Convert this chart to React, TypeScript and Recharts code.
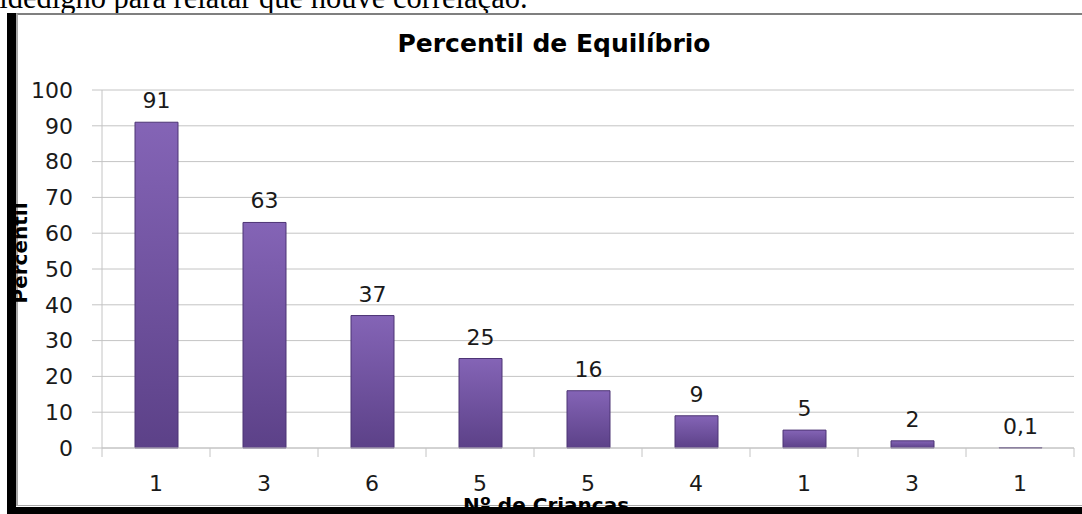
import { Bar, BarChart, CartesianGrid, LabelList, XAxis, YAxis } from "recharts";

const criancas = ["1", "3", "6", "5", "5", "4", "1", "3", "1"];
const percentis = [91, 63, 37, 25, 16, 9, 5, 2, 0.1];
const yTicks = [0, 10, 20, 30, 40, 50, 60, 70, 80, 90, 100];

const data = criancas.map((name, i) => ({ name, percentil: percentis[i] }));

const sans = "'DejaVu Sans', sans-serif";
const gridGray = "#c4c4c4";

function virgula(value: unknown) {
  return String(value).replace(".", ",");
}

// rótulo da categoria + marcas nas divisas entre as categorias
function CategoriaTick(props: any) {
  const { x, y, payload, index, visibleTicksCount, width } = props;
  const meia = Number(width) / visibleTicksCount / 2;
  return (
    <g>
      <line x1={x - meia} x2={x - meia} y1={y} y2={y + 9} stroke={gridGray} />
      {index === visibleTicksCount - 1 && (
        <line x1={x + meia} x2={x + meia} y1={y} y2={y + 9} stroke={gridGray} />
      )}
      <text
        x={x}
        y={y + 27}
        dy="0.71em"
        textAnchor="middle"
        fill="#1a1a1a"
        fontSize={22}
        fontFamily={sans}
      >
        {payload.value}
      </text>
    </g>
  );
}

export default function App() {
  return (
    <div
      style={{
        position: "fixed",
        left: 0,
        top: 0,
        width: 1082,
        height: 514,
        overflow: "hidden",
        background: "#fff",
      }}
    >
      {/* linha do texto acima, cortada */}
      <div
        style={{
          position: "absolute",
          left: -11,
          top: -17,
          whiteSpace: "nowrap",
          fontFamily: "'Liberation Serif', serif",
          fontSize: 30.5,
          lineHeight: "30px",
          color: "#000",
        }}
      >
        fidedigno para relatar que houve correlação.
      </div>

      {/* caixa do gráfico */}
      <div
        style={{
          position: "absolute",
          left: 16,
          top: 13,
          width: 1080,
          height: 493,
          background: "#fff",
          borderTop: "2px solid #7f7f7f",
          borderLeft: "2px solid #a8a8a8",
          borderBottom: "1px solid #a8a8a8",
          boxSizing: "border-box",
        }}
      />

      <div style={{ position: "absolute", left: 0, top: 0 }}>
        <BarChart
          width={1082}
          height={514}
          data={data}
          margin={{ top: 90, right: 8, left: 22, bottom: 26 }}
          barSize={43}
        >
          <defs>
            <linearGradient id="barFill" x1="0" y1="0" x2="0" y2="1">
              <stop offset="0%" stopColor="#8464b6" />
              <stop offset="100%" stopColor="#5c4188" />
            </linearGradient>
          </defs>
          <CartesianGrid
            stroke={gridGray}
            vertical={false}
            horizontalValues={yTicks}
          />
          <XAxis
            dataKey="name"
            stroke={gridGray}
            tickLine={false}
            tickSize={0}
            tickMargin={0}
            interval={0}
            height={40}
            tick={CategoriaTick}
          />
          <YAxis
            domain={[0, 100]}
            ticks={yTicks}
            width={80}
            tickSize={10}
            tickMargin={19}
            stroke={gridGray}
            tick={{ fill: "#1a1a1a", fontSize: 22, fontFamily: sans }}
          />
          <Bar
            dataKey="percentil"
            fill="url(#barFill)"
            stroke="#4d3475"
            strokeWidth={1}
            isAnimationActive={false}
          >
            <LabelList
              dataKey="percentil"
              position="top"
              offset={14}
              formatter={virgula}
              style={{ fill: "#1a1a1a", fontSize: 22, fontFamily: sans }}
            />
          </Bar>
        </BarChart>
      </div>

      <div
        style={{
          position: "absolute",
          left: 354,
          top: 29,
          width: 400,
          textAlign: "center",
          fontFamily: sans,
          fontWeight: "bold",
          fontSize: 25,
          lineHeight: "30px",
          color: "#000",
        }}
      >
        Percentil de Equilíbrio
      </div>

      <div
        style={{
          position: "absolute",
          left: 20 - 100,
          top: 253 - 12,
          width: 200,
          height: 24,
          textAlign: "center",
          fontFamily: sans,
          fontWeight: "bold",
          fontSize: 20,
          lineHeight: "24px",
          color: "#000",
          transform: "rotate(-90deg)",
        }}
      >
        Percentil
      </div>

      <div
        style={{
          position: "absolute",
          left: 546 - 150,
          top: 493,
          width: 300,
          textAlign: "center",
          fontFamily: sans,
          fontWeight: "bold",
          fontSize: 20,
          lineHeight: "24px",
          color: "#000",
        }}
      >
        Nº de Crianças
      </div>

      {/* sombra preta à esquerda e embaixo */}
      <div
        style={{
          position: "absolute",
          left: 7,
          top: 13,
          width: 9,
          height: 501,
          background: "#000",
        }}
      />
      <div
        style={{
          position: "absolute",
          left: 7,
          top: 507,
          width: 1075,
          height: 7,
          background: "#000",
        }}
      />
    </div>
  );
}
